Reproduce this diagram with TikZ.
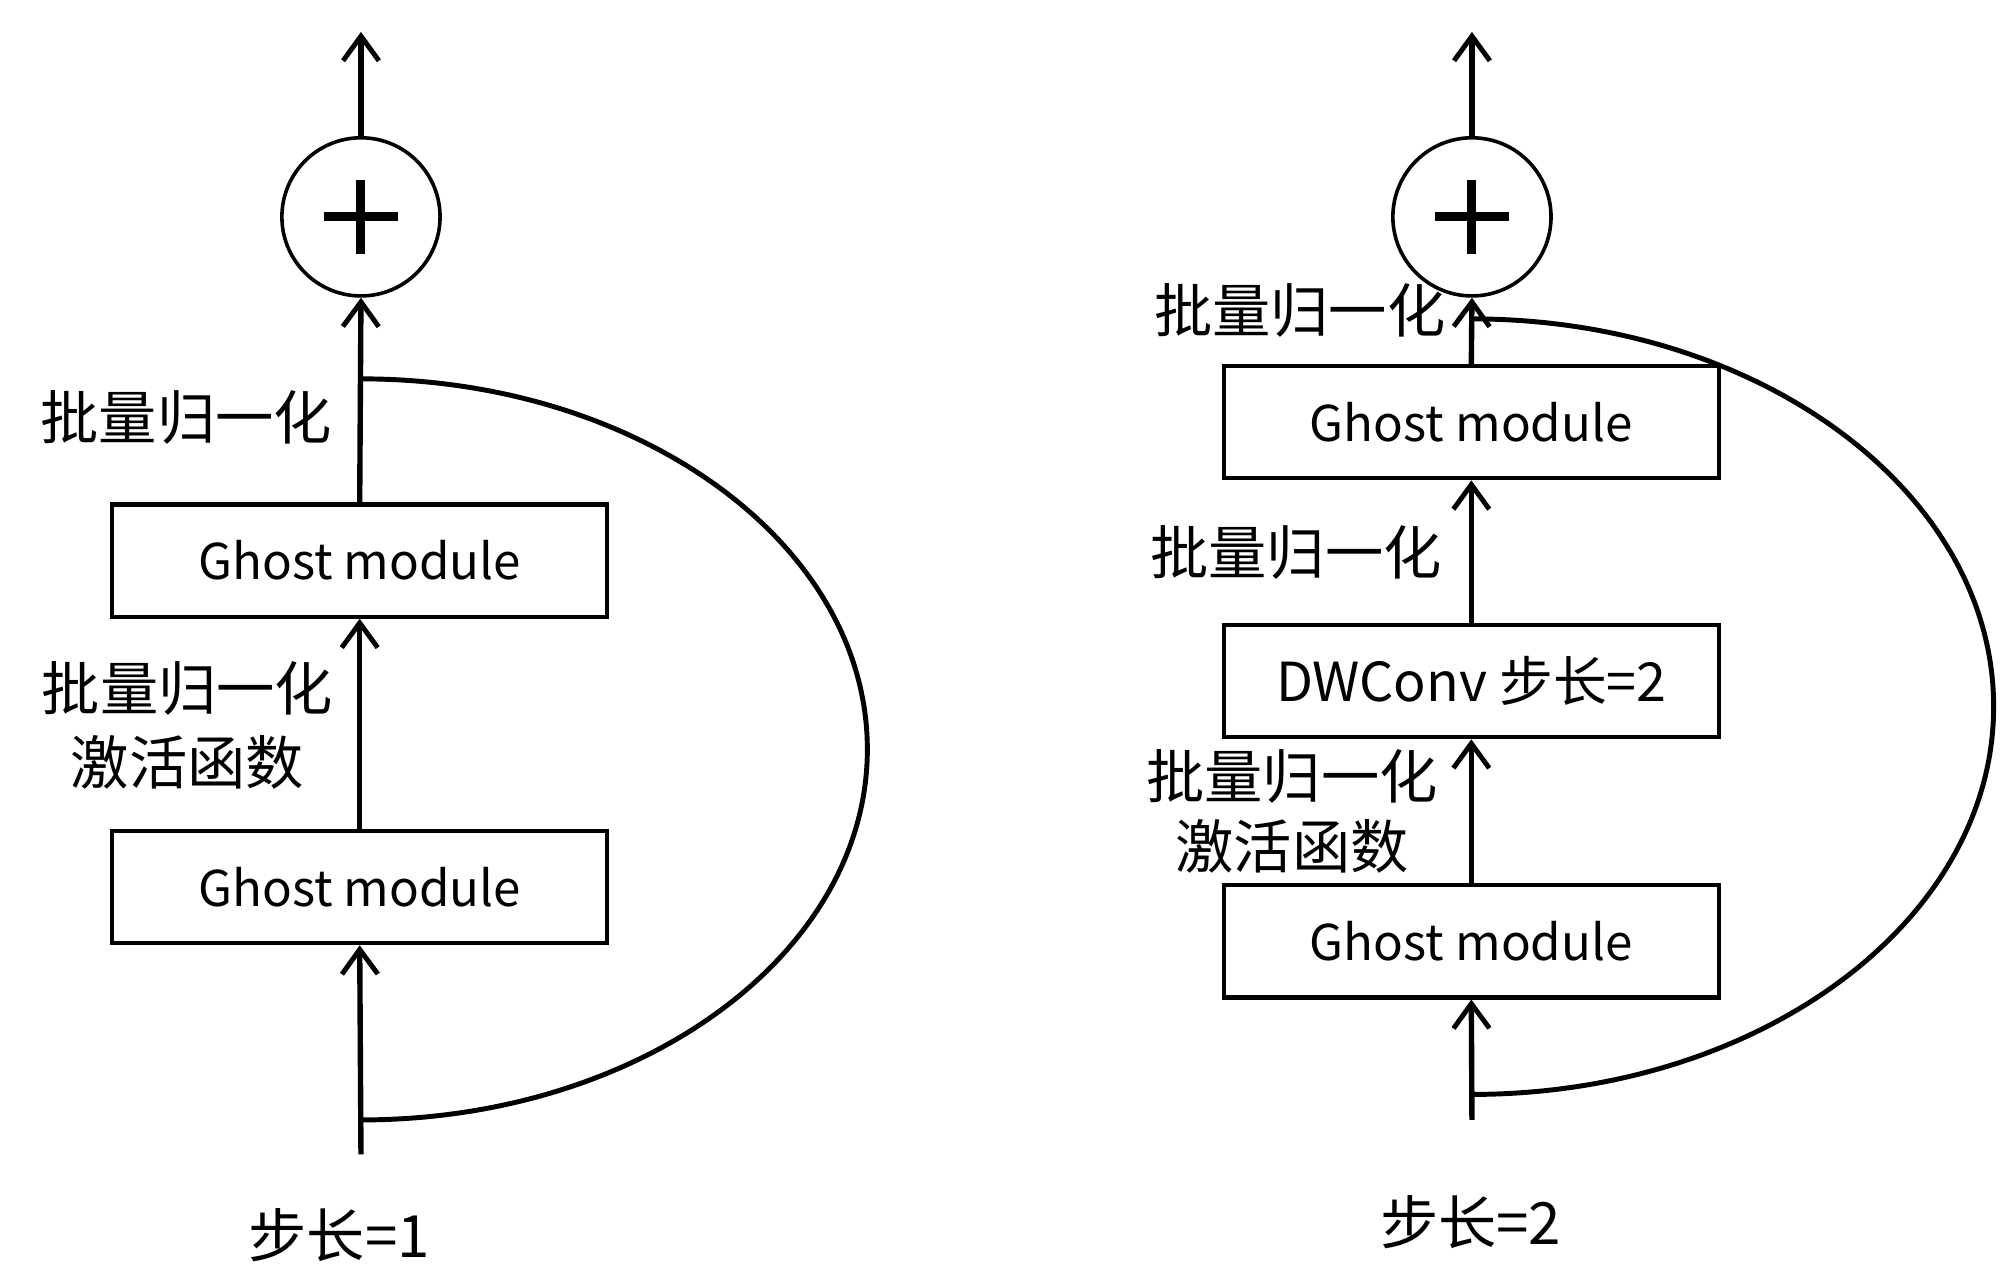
\documentclass[tikz,border=0pt]{standalone}
\usepackage{fontspec}
\setmainfont{Noto Sans CJK SC}
\usepackage{tikz}
\usetikzlibrary{arrows.meta, calc}

\begin{document}
\begin{tikzpicture}[
  >={Straight Barb[length=5.5pt,width=8pt,line width=1.1pt]},
  ghostbox/.style={draw, line width=0.9pt, minimum width=3.88cm, minimum height=0.88cm, inner sep=0pt, font=\fontsize{11pt}{13pt}\selectfont},
  addnode/.style={draw, circle, line width=0.8pt, minimum size=1.24cm, inner sep=0pt},
  flow/.style={->, line width=1.2pt},
  skip/.style={line width=1.1pt},
  lbl/.style={align=center, inner sep=0pt, font=\fontsize{13pt}{16pt}\selectfont}]
\useasboundingbox (0,0) rectangle (15.68,-10.06);
% stride 1
\node[addnode] (addL) at (2.83,-1.70) {};
\draw[line width=2pt] ([xshift=-0.29cm]addL.center) -- ([xshift=0.29cm]addL.center) ([yshift=-0.29cm]addL.center) -- ([yshift=0.29cm]addL.center);
\node[ghostbox] (ghostLa) at (2.82,-4.395) {Ghost module};
\node[ghostbox] (ghostLb) at (2.82,-6.955) {Ghost module};
\coordinate (inL) at (2.83,-9.05); \coordinate (outL) at (2.83,-0.25);
\coordinate (skipLa) at (2.83,-2.97); %skip start
\draw[flow] (inL) -- (ghostLb.south);
\draw[flow] (ghostLb.north) -- (ghostLa.south);
\draw[flow] (ghostLa.north) -- (addL.south);
\draw[flow] (addL.north) -- (outL);
\draw[skip] (skipLa) arc[start angle=90, end angle=-90, x radius=3.97, y radius=2.905];
\node[lbl] (bnLa) at (1.46,-3.27) {批量归一化};
\node[lbl, font=\fontsize{13pt}{16.5pt}\selectfont] (bnLb) at (1.47,-5.69) {批量归一化\\激活函数};
\node[lbl] (strideL) at (2.66,-9.68) {步长=1};
% stride 2
\node[addnode] (addR) at (11.54,-1.70) {};
\draw[line width=2pt] ([xshift=-0.29cm]addR.center) -- ([xshift=0.29cm]addR.center) ([yshift=-0.29cm]addR.center) -- ([yshift=0.29cm]addR.center);
\node[ghostbox] (ghostRa) at (11.535,-3.31) {Ghost module};
\node[ghostbox, font=\fontsize{12pt}{14pt}\selectfont] (dwconv) at (11.535,-5.34) {DWConv 步长=2};
\node[ghostbox] (ghostRb) at (11.535,-7.38) {Ghost module};
\coordinate (inR) at (11.54,-8.78); \coordinate (outR) at (11.54,-0.25);
\coordinate (skipRa) at (11.54,-2.50); %skip start
\draw[flow] (inR) -- (ghostRb.south);
\draw[flow] (ghostRb.north) -- (dwconv.south);
\draw[flow] (dwconv.north) -- (ghostRa.south);
\draw[flow] (ghostRa.north) -- (addR.south);
\draw[flow] (addR.north) -- (outR);
\draw[skip] (skipRa) arc[start angle=90, end angle=-90, x radius=4.09, y radius=3.04];
\node[lbl] (bnRa) at (10.19,-2.43) {批量归一化};
\node[lbl] (bnRb) at (10.16,-4.33) {批量归一化};
\node[lbl, font=\fontsize{13pt}{15.5pt}\selectfont] (bnRc) at (10.13,-6.36) {批量归一化\\激活函数};
\node[lbl] (strideR) at (11.53,-9.58) {步长=2};
\end{tikzpicture}
\end{document}
